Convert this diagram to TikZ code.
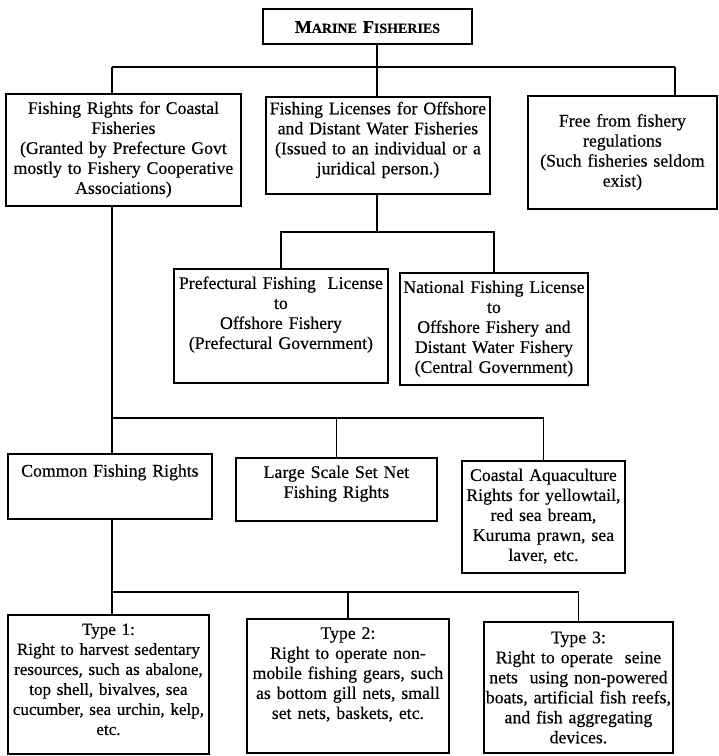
\documentclass[tikz,border=0pt]{standalone}
\usepackage{fontspec}
\setmainfont{Liberation Serif}[FakeBold=0.4]

\begin{document}
\begin{tikzpicture}[x=0.75pt,y=-0.75pt,
    font=\fontsize{13.3}{15}\selectfont,
    cell/.style={draw,line width=1.4pt,anchor=north west,align=center,
      inner xsep=1pt,inner ysep=4pt,text height=11pt},
    link/.style={line width=1.3pt}]
  \useasboundingbox (0,0) rectangle (718,756);

  % Root of the chart
  \node[cell,text width=154.75pt,text height=14pt,text depth=4.25pt,
    font=\fontsize{13.5}{15}\selectfont\bfseries] (marine) at (262,8)
    {M{\fontsize{10.5}{12}\selectfont ARINE} F{\fontsize{10.5}{12}\selectfont ISHERIES}};

  % First level: rights, licenses, free fisheries
  \node[cell,text width=174.25pt,text depth=65pt] (rights) at (5,93)
    {Fishing Rights for Coastal\\ Fisheries\\ (Granted by Prefecture Govt\\
     mostly to Fishery Cooperative\\ Associations)};
  \node[cell,text width=166pt,text height=9pt,text depth=55.75pt] (licenses)
    at (265,96)
    {Fishing Licenses for Offshore\\ and Distant Water Fisheries\\
     (Issued to an individual or a\\ juridical person.)};
  \node[cell,text width=139.75pt,text height=19pt,text depth=57.75pt] (free)
    at (527,95)
    {Free from fishery\\ regulations\\ (Such fisheries seldom\\ exist)};

  \coordinate (bar1) at (377,67);
  \coordinate (bar1l) at (112,67);
  \coordinate (bar1r) at (675,67);
  \draw[link] (marine.south -| bar1) -- (licenses.north -| bar1);
  \draw[link] (bar1l) -- (bar1r);
  \draw[link] (bar1l) -- (rights.north -| bar1l);
  \draw[link] (bar1r) -- (free.north -| bar1r);

  % Licenses split by issuing government
  \node[cell,text width=158.5pt,text depth=66.5pt] (pref) at (173,268)
    {Prefectural Fishing\ \ License\\ to\\ Offshore Fishery\\
     (Prefectural Government)};
  \node[cell,text width=139pt,text depth=65pt] (national) at (399,272)
    {National Fishing License\\ to\\ Offshore Fishery and\\
     Distant Water Fishery\\ (Central Government)};

  \coordinate (bar2) at (377,232);
  \draw[link] (licenses.south -| bar2) -- (bar2);
  \draw[link] (pref.north) |- (bar2) -| (national.north);

  % Kinds of coastal fishing rights
  \node[cell,text width=151pt,text height=13pt,text depth=27.75pt] (common)
    at (7,453) {Common Fishing Rights};
  \node[cell,text width=148.75pt,text depth=28.25pt] (largenet) at (235,457)
    {Large Scale Set Net\\ Fishing Rights};
  \node[cell,text width=120.25pt,text depth=65pt] (aqua) at (461,460)
    {Coastal Aquaculture\\ Rights for yellowtail,\\ red sea bream,\\
     Kuruma prawn, sea\\ laver, etc.};

  \coordinate (bar3) at (112,418);
  \draw[link] (rights.south -| bar3) -- (bar3) -- (common.north -| bar3);
  \draw[link] (bar3) -| (aqua.north);
  \draw[link] (largenet.north) -- (largenet.north |- bar3);

  % Three types of common fishing rights
  \node[cell,text width=148.75pt,text depth=85.25pt,
    font=\fontsize{12.8}{15}\selectfont] (type1) at (7,614)
    {Type 1:\\ Right to harvest sedentary\\ resources, such as abalone,\\
     top shell, bivalves, sea\\ cucumber, sea urchin, kelp,\\ etc.};
  \node[cell,text width=149.5pt,text depth=81.5pt] (type2) at (246,618)
    {Type 2:\\ Right to operate non-\\ mobile fishing gears, such\\
     as bottom gill nets, small\\ set nets, baskets, etc.};
  \node[cell,text width=139.75pt,text height=12pt,text depth=78.25pt] (type3)
    at (483,621)
    {Type 3:\\ Right to operate\ \ seine\\ nets\ \ using non-powered\\
     boats, artificial fish reefs,\\ and fish aggregating\\ devices.};

  \coordinate (bar4) at (112,592);
  \draw[link] (common.south -| bar4) -- (bar4) -- (type1.north -| bar4);
  \draw[link] (bar4) -| (type3.north);
  \draw[link] (type2.north) -- (type2.north |- bar4);
\end{tikzpicture}
\end{document}
